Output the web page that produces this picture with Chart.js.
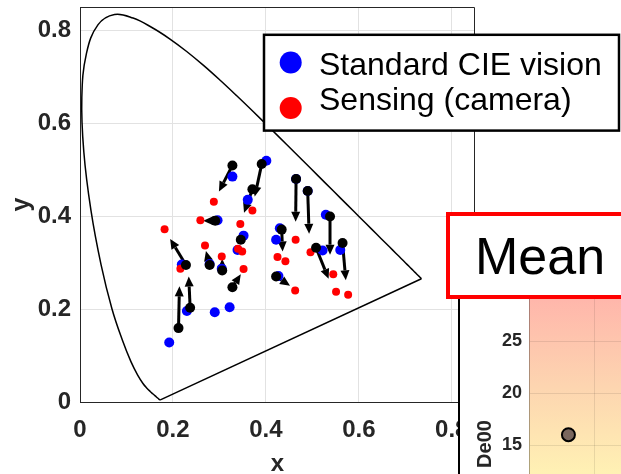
<!DOCTYPE html>
<html>
<head>
<meta charset="utf-8">
<script src="https://cdn.jsdelivr.net/npm/chart.js@4.4.0/dist/chart.umd.min.js"></script>
<style>
  html, body { margin: 0; padding: 0; background: #fff; }
  body { width: 621px; height: 474px; overflow: hidden; position: relative; font-family: 'Liberation Sans', Arial, sans-serif; }
  #main { position: absolute; left: 0; top: 0; }
  #inset { position: absolute; left: 458px; top: 298px; }
  #meanBox { position: absolute; left: 446px; top: 212px; width: 200px; height: 87px; box-sizing: border-box; border: 4px solid #ff0000; background: #fff; }
  #meanBox span { position: absolute; left: 25px; top: 10px; font-size: 52px; line-height: 60px; color: #000; }
</style>
</head>
<body>
<canvas id="main" width="621" height="474"></canvas>
<canvas id="inset" width="163" height="292"></canvas>
<div id="meanBox"><span>Mean</span></div>
<script>
// CIE 1931 spectral locus, 380-700 nm
const locusX = [0.1741, 0.1740, 0.1738, 0.1736, 0.1733, 0.1730, 0.1726, 0.1721, 0.1714, 0.1703, 0.1689, 0.1669,
  0.1644, 0.1611, 0.1566, 0.1510, 0.1440, 0.1355, 0.1241, 0.1096, 0.0913, 0.0687, 0.0454, 0.0235, 0.0082, 0.0039,
  0.0139, 0.0389, 0.0743, 0.1142, 0.1547, 0.1929, 0.2296, 0.2658, 0.3016, 0.3373, 0.3731, 0.4087, 0.4441, 0.4788,
  0.5125, 0.5448, 0.5752, 0.6029, 0.6270, 0.6482, 0.6658, 0.6801, 0.6915, 0.7006, 0.7079, 0.7140, 0.7190, 0.7230,
  0.7260, 0.7283, 0.7300, 0.7311, 0.7320, 0.7327, 0.7334, 0.7344, 0.7347];
const locusY = [0.0050, 0.0050, 0.0049, 0.0049, 0.0048, 0.0048, 0.0048, 0.0048, 0.0051, 0.0058, 0.0069, 0.0086,
  0.0109, 0.0138, 0.0177, 0.0227, 0.0297, 0.0399, 0.0578, 0.0868, 0.1327, 0.2007, 0.2950, 0.4127, 0.5384, 0.6548,
  0.7502, 0.8120, 0.8338, 0.8262, 0.8059, 0.7816, 0.7543, 0.7243, 0.6923, 0.6589, 0.6245, 0.5896, 0.5547, 0.5202,
  0.4866, 0.4544, 0.4242, 0.3965, 0.3725, 0.3514, 0.3340, 0.3197, 0.3083, 0.2993, 0.2920, 0.2859, 0.2809, 0.2770,
  0.2740, 0.2717, 0.2700, 0.2689, 0.2680, 0.2673, 0.2666, 0.2656, 0.2653];

// Standard CIE vision (blue)
const cieX = [0.328, 0.401, 0.361, 0.296, 0.219, 0.279, 0.305, 0.352, 0.339, 0.230, 0.192,
  0.290, 0.322, 0.427, 0.430, 0.422, 0.465, 0.490, 0.529, 0.522, 0.560];
const cieY = [0.485, 0.519, 0.435, 0.391, 0.296, 0.297, 0.287, 0.358, 0.327, 0.196, 0.128,
  0.193, 0.204, 0.271, 0.374, 0.349, 0.480, 0.454, 0.403, 0.326, 0.327];

// Sensing (camera) (red)
const camX = [0.288, 0.371, 0.259, 0.345, 0.182, 0.269, 0.305, 0.216, 0.340, 0.349,
  0.352, 0.425, 0.442, 0.464, 0.463, 0.496, 0.545, 0.551, 0.577];
const camY = [0.431, 0.412, 0.391, 0.383, 0.372, 0.337, 0.313, 0.287, 0.330, 0.324,
  0.286, 0.312, 0.303, 0.349, 0.240, 0.322, 0.275, 0.237, 0.231];

// shift arrows (black dot -> arrow head)
const arrowFromX = [0.328, 0.391, 0.371, 0.291, 0.228, 0.279, 0.306, 0.328, 0.212,
  0.237, 0.346, 0.434, 0.465, 0.490, 0.538, 0.508, 0.565, 0.422];
const arrowFromY = [0.509, 0.512, 0.458, 0.390, 0.295, 0.295, 0.283, 0.247, 0.159,
  0.203, 0.349, 0.371, 0.480, 0.454, 0.399, 0.332, 0.342, 0.270];
const arrowToX = [0.299, 0.376, 0.353, 0.265, 0.194, 0.271, 0.306, 0.346, 0.214,
  0.234, 0.351, 0.436, 0.464, 0.493, 0.538, 0.535, 0.572, 0.452];
const arrowToY = [0.453, 0.442, 0.407, 0.390, 0.351, 0.325, 0.308, 0.275, 0.249,
  0.270, 0.366, 0.324, 0.388, 0.362, 0.317, 0.265, 0.262, 0.250];

const axisTicks = [0, 0.2, 0.4, 0.6, 0.8];
const seriesNames = ['Standard CIE vision', 'Sensing (camera)'];

// inset: mean De00
const insetX = [0.6];
const insetDe00 = [16];
const insetTicks = [5, 10, 15, 20, 25];

const pts = (xs, ys) => xs.map((x, i) => ({ x: x, y: ys[i] }));
const last = a => a[a.length - 1];

const FONT = "'Liberation Sans', Arial, sans-serif";
const INK = '#262626';

const boxAndArrows = {
  id: 'boxAndArrows',
  beforeDatasetsDraw(chart) {
    const { ctx, chartArea: a, scales: { x, y } } = chart;
    ctx.save();
    // top/right box edges
    ctx.strokeStyle = INK;
    ctx.lineWidth = 1;
    ctx.beginPath();
    ctx.moveTo(a.left, a.top + 0.5);
    ctx.lineTo(a.right - 0.5, a.top + 0.5);
    ctx.lineTo(a.right - 0.5, a.bottom);
    ctx.stroke();

    ctx.strokeStyle = '#000';
    ctx.fillStyle = '#000';
    ctx.lineWidth = 3;
    arrowFromX.forEach((x0, i) => {
      const px0 = x.getPixelForValue(x0), py0 = y.getPixelForValue(arrowFromY[i]);
      const px1 = x.getPixelForValue(arrowToX[i]), py1 = y.getPixelForValue(arrowToY[i]);
      const ang = Math.atan2(py1 - py0, px1 - px0);
      const head = 10, half = 4.5;
      const bx = px1 - head * Math.cos(ang), by = py1 - head * Math.sin(ang);
      ctx.beginPath();
      ctx.moveTo(px0, py0);
      ctx.lineTo(bx, by);
      ctx.stroke();
      ctx.beginPath();
      ctx.moveTo(px1, py1);
      ctx.lineTo(bx + half * Math.sin(ang), by - half * Math.cos(ang));
      ctx.lineTo(bx - half * Math.sin(ang), by + half * Math.cos(ang));
      ctx.closePath();
      ctx.fill();
    });
    ctx.restore();
  }
};

const legendBox = {
  id: 'legendBox',
  afterDraw(chart) {
    const ctx = chart.ctx;
    const items = chart.data.datasets.filter(d => seriesNames.includes(d.label));
    ctx.save();
    ctx.fillStyle = '#fff';
    ctx.fillRect(264, 35, 355, 96);
    ctx.strokeStyle = '#000';
    ctx.lineWidth = 2.5;
    ctx.strokeRect(264, 34.8, 355, 95.8);
    ctx.font = '32px ' + FONT;
    ctx.textBaseline = 'alphabetic';
    ctx.textAlign = 'left';
    items.forEach((d, i) => {
      const cy = 62.5 + i * 45.5;
      ctx.fillStyle = d.backgroundColor;
      ctx.beginPath();
      ctx.arc(290.7, cy, 11, 0, Math.PI * 2);
      ctx.fill();
      ctx.fillStyle = '#000';
      ctx.fillText(d.label, 319, 75 + i * 35);
    });
    ctx.restore();
  }
};

new Chart(document.getElementById('main'), {
  type: 'scatter',
  data: {
    datasets: [
      { label: 'locus', data: pts(locusX, locusY), showLine: true, tension: 0.4, borderColor: '#000',
        borderWidth: 1.5, pointRadius: 0, order: 5 },
      { label: 'purple line', data: [{ x: last(locusX), y: last(locusY) }, { x: locusX[0], y: locusY[0] }],
        showLine: true, borderColor: '#000', borderWidth: 1.5, pointRadius: 0, order: 4 },
      { label: seriesNames[0], data: pts(cieX, cieY), backgroundColor: '#0000ff', borderWidth: 0,
        pointRadius: 5, order: 3 },
      { label: seriesNames[1], data: pts(camX, camY), backgroundColor: '#ff0000', borderWidth: 0,
        pointRadius: 4, order: 2 },
      { label: 'shift', data: pts(arrowFromX, arrowFromY), backgroundColor: '#000', borderWidth: 0,
        pointRadius: 5, order: 1 }
    ]
  },
  options: {
    responsive: false,
    animation: false,
    events: [],
    layout: { autoPadding: false, padding: { left: 0, top: 7, right: 146, bottom: 0 } },
    plugins: { legend: { display: false }, tooltip: { enabled: false } },
    scales: {
      x: {
        type: 'linear', min: 0, max: 0.85,
        afterBuildTicks: s => { s.ticks = axisTicks.map(v => ({ value: v })); },
        afterFit: s => { s.height = 72; s.paddingLeft = 0; s.paddingRight = 0; },
        grid: { color: '#e2e2e2', drawTicks: false },
        border: { color: INK, width: 1 },
        ticks: { autoSkip: false, maxRotation: 0, padding: 14, color: INK,
          font: { family: FONT, size: 24, weight: 'bold' },
          callback: v => v === 0 ? '0' : v.toFixed(1) },
        title: { display: true, text: 'x', color: INK, padding: 0,
          font: { family: FONT, size: 24, weight: 'bold', lineHeight: 0.84 } }
      },
      y: {
        type: 'linear', min: 0, max: 0.85,
        afterBuildTicks: s => { s.ticks = axisTicks.map(v => ({ value: v })); },
        afterFit: s => { s.width = 80; s.paddingTop = 0; s.paddingBottom = 0; },
        grid: { color: '#e2e2e2', drawTicks: false },
        border: { color: INK, width: 1 },
        ticks: { autoSkip: false, padding: 9, color: INK,
          font: { family: FONT, size: 24, weight: 'bold' },
          callback: v => v === 0 ? '0' : v.toFixed(1) },
        title: { display: true, text: 'y', color: INK, padding: { top: 10, bottom: 0 },
          font: { family: FONT, size: 25, weight: 'bold', lineHeight: 1 } }
      }
    }
  },
  plugins: [boxAndArrows, legendBox]
});

const insetBg = {
  id: 'insetBg',
  beforeDraw(chart) {
    const { ctx, chartArea: a, scales: { y } } = chart;
    ctx.save();
    ctx.fillStyle = '#fff';
    ctx.fillRect(0, 0, chart.width, chart.height);
    const g = ctx.createLinearGradient(0, y.getPixelForValue(29.2), 0, y.getPixelForValue(12));
    g.addColorStop(0, '#ffb6ab');
    g.addColorStop(0.5, '#fdd5b0');
    g.addColorStop(1, '#fff2b4');
    ctx.fillStyle = g;
    ctx.fillRect(a.left, a.top, a.right - a.left, a.bottom - a.top);
    ctx.restore();
  },
  afterDraw(chart) {
    const ctx = chart.ctx;
    ctx.save();
    ctx.fillStyle = '#000';
    ctx.fillRect(0, 0, 2, chart.height);
    ctx.restore();
  }
};

new Chart(document.getElementById('inset'), {
  type: 'scatter',
  data: {
    datasets: [{ label: 'Mean', data: pts(insetX, insetDe00), backgroundColor: '#7a675e',
      borderColor: '#000', borderWidth: 2, pointRadius: 6.5 }]
  },
  options: {
    responsive: false,
    animation: false,
    events: [],
    layout: { autoPadding: false, padding: 0 },
    plugins: { legend: { display: false }, tooltip: { enabled: false } },
    scales: {
      x: {
        type: 'linear', min: 0, max: 1.4,
        afterBuildTicks: s => { s.ticks = [{ value: 0 }, { value: 1 }]; },
        afterFit: s => { s.height = 0; s.paddingLeft = 0; s.paddingRight = 0; },
        ticks: { display: false },
        grid: { color: 'rgba(0,0,0,0.09)', drawTicks: false },
        border: { display: false }
      },
      y: {
        type: 'linear', min: 1, max: 29.2,
        afterBuildTicks: s => { s.ticks = insetTicks.map(v => ({ value: v })); },
        afterFit: s => { s.width = 71; s.paddingTop = 0; s.paddingBottom = 0; },
        grid: { color: 'rgba(0,0,0,0.09)', drawTicks: false },
        border: { color: 'rgba(0,0,0,0.25)', width: 1 },
        ticks: { padding: 7, color: INK, font: { family: FONT, size: 18, weight: 'bold' } },
        title: { display: true, text: 'De00', color: INK, padding: { top: 17, bottom: 0 },
          font: { family: FONT, size: 20, weight: 'bold', lineHeight: 1 } }
      }
    }
  },
  plugins: [insetBg]
});
</script>
</body>
</html>
